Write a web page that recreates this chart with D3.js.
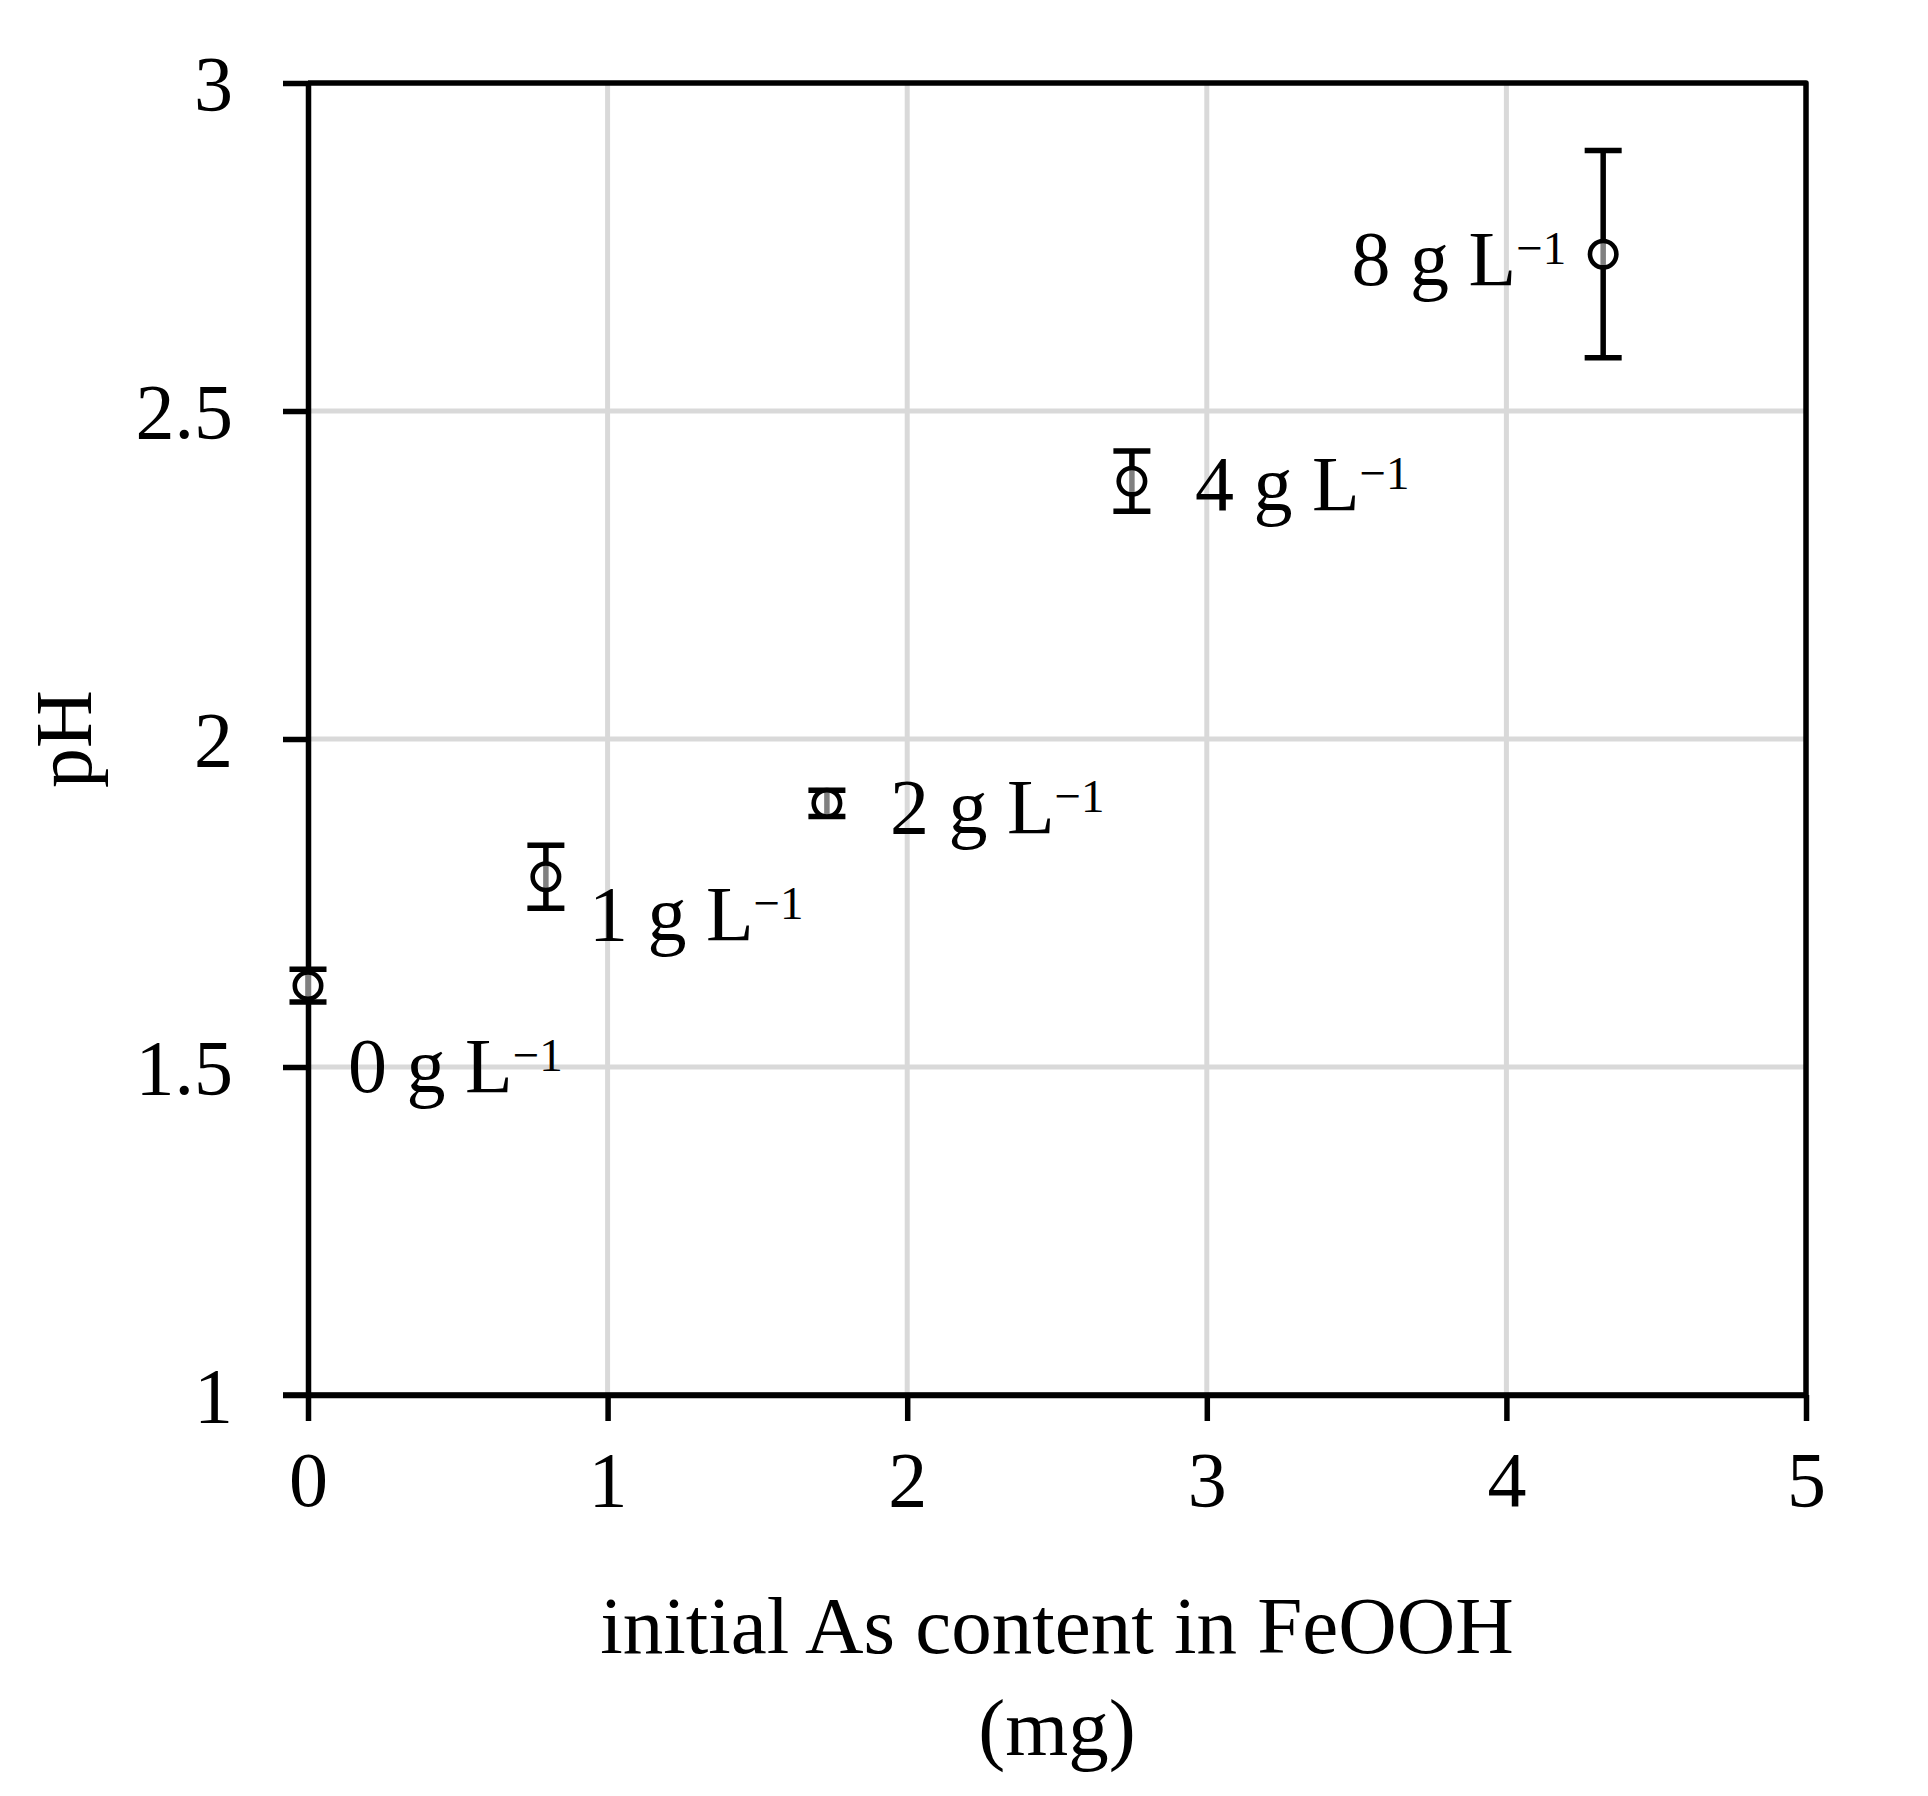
<!DOCTYPE html>
<html>
<head>
<meta charset="utf-8">
<script src="https://cdn.jsdelivr.net/npm/d3@7"></script>
<style>
  body { margin: 0; background: #fff; }
  text { font-family: "Liberation Serif", "Times New Roman", serif; fill: #000; }
</style>
</head>
<body>
<svg></svg>
<script>
// data
var concLabels = ["0", "1", "2", "4", "8"];          // g L-1
var asContent = [0, 0.794, 1.732, 2.750, 4.323];      // mg
var phValues = [1.624, 1.790, 1.902, 2.393, 2.739];
var phErrors = [0.025, 0.048, 0.020, 0.046, 0.158];
var xTicks = [0, 1, 2, 3, 4, 5];
var yTicks = [1, 1.5, 2, 2.5, 3];

// label placement, pixels from the point
var labelOffsets = [[40, 106, "start"], [43, 63, "start"], [63, 30, "start"], [63, 29, "start"], [-37, 31, "end"]];

var width = 1928, height = 1796;
var plotLeft = 308, plotRight = 1806, plotTop = 83, plotBottom = 1395;

var svg = d3.select("svg")
  .attr("width", width)
  .attr("height", height);

svg.append("rect")
  .attr("width", width)
  .attr("height", height)
  .style("fill", "#fff");

var x = d3.scaleLinear().domain([0, 5]).range([plotLeft, plotRight]);
var y = d3.scaleLinear().domain([1, 3]).range([plotBottom, plotTop]);

// grid lines
svg.append("g").selectAll("line")
  .data(xTicks.slice(1, -1))
  .enter().append("line")
  .attr("x1", d => x(d)).attr("x2", d => x(d))
  .attr("y1", plotTop).attr("y2", plotBottom)
  .style("stroke", "#d9d9d9")
  .style("stroke-width", 5);

svg.append("g").selectAll("line")
  .data(yTicks.slice(1, -1))
  .enter().append("line")
  .attr("x1", plotLeft).attr("x2", plotRight)
  .attr("y1", d => y(d)).attr("y2", d => y(d))
  .style("stroke", "#d9d9d9")
  .style("stroke-width", 5);

// frame: top and right borders
svg.append("path")
  .attr("d", "M" + plotLeft + "," + plotTop + "H" + plotRight + "V" + plotBottom)
  .style("fill", "none")
  .style("stroke", "#000")
  .style("stroke-width", 5.5)
  .style("stroke-linejoin", "round");

// axes
var xAxis = svg.append("g")
  .attr("transform", "translate(0," + plotBottom + ")")
  .call(d3.axisBottom(x).tickValues(xTicks).tickFormat(d3.format("d")).tickSizeInner(26).tickSizeOuter(0).tickPadding(32));

var yAxis = svg.append("g")
  .attr("transform", "translate(" + plotLeft + ",0)")
  .call(d3.axisLeft(y).tickValues(yTicks).tickFormat(d => String(d)).tickSizeInner(25).tickSizeOuter(0).tickPadding(50));

[xAxis, yAxis].forEach(function (a) {
  a.select(".domain").style("stroke", "#000").style("stroke-width", 5.5);
  a.selectAll(".tick line").style("stroke", "#000").style("stroke-width", 5.5);
  a.selectAll(".tick text")
    .style("font-family", "Liberation Serif")
    .style("font-size", "78px")
    .style("fill", "#000");
});
xAxis.selectAll(".tick text").attr("dy", "0.68em");
yAxis.selectAll(".tick text").attr("dy", "0.34em");

// extend the bottom line left over the first y tick
svg.append("line")
  .attr("x1", plotLeft - 25).attr("x2", plotRight)
  .attr("y1", plotBottom).attr("y2", plotBottom)
  .style("stroke", "#000").style("stroke-width", 5.5);

// error bars
var pts = concLabels.map(function (c, i) {
  return { c: c, x: asContent[i], y: phValues[i], e: phErrors[i], off: labelOffsets[i] };
});

var bars = svg.append("g").selectAll("g")
  .data(pts)
  .enter().append("g")
  .style("stroke", "#000")
  .style("stroke-width", 5.5);

bars.append("line")
  .attr("x1", d => x(d.x)).attr("x2", d => x(d.x))
  .attr("y1", d => y(d.y + d.e)).attr("y2", d => y(d.y - d.e));
bars.append("line")
  .attr("x1", d => x(d.x) - 18.5).attr("x2", d => x(d.x) + 18.5)
  .attr("y1", d => y(d.y + d.e)).attr("y2", d => y(d.y + d.e));
bars.append("line")
  .attr("x1", d => x(d.x) - 18.5).attr("x2", d => x(d.x) + 18.5)
  .attr("y1", d => y(d.y - d.e)).attr("y2", d => y(d.y - d.e));

// markers
svg.append("g").selectAll("circle")
  .data(pts)
  .enter().append("circle")
  .attr("cx", d => x(d.x))
  .attr("cy", d => y(d.y))
  .attr("r", 13.2)
  .style("fill", "#fff")
  .style("fill-opacity", 0.5)
  .style("stroke", "#000")
  .style("stroke-width", 4.6);

// point labels
var labels = svg.append("g").selectAll("text")
  .data(pts)
  .enter().append("text")
  .attr("x", d => x(d.x) + d.off[0])
  .attr("y", d => y(d.y) + d.off[1])
  .attr("text-anchor", d => d.off[2])
  .style("font-size", "78px");

labels.append("tspan").text(d => d.c + " g L");
labels.append("tspan")
  .attr("dy", -21)
  .style("font-size", "47px")
  .text("\u22121");

// axis titles
var midX = (plotLeft + plotRight) / 2;
var title = svg.append("text")
  .attr("text-anchor", "middle")
  .style("font-size", "81px");
title.append("tspan").attr("x", midX).attr("y", 1653).text("initial As content in FeOOH");
title.append("tspan").attr("x", midX).attr("y", 1755).text("(mg)");

svg.append("text")
  .attr("transform", "translate(91," + ((plotTop + plotBottom) / 2) + ") rotate(-90)")
  .attr("text-anchor", "middle")
  .style("font-size", "80px")
  .text("pH");
</script>
</body>
</html>
